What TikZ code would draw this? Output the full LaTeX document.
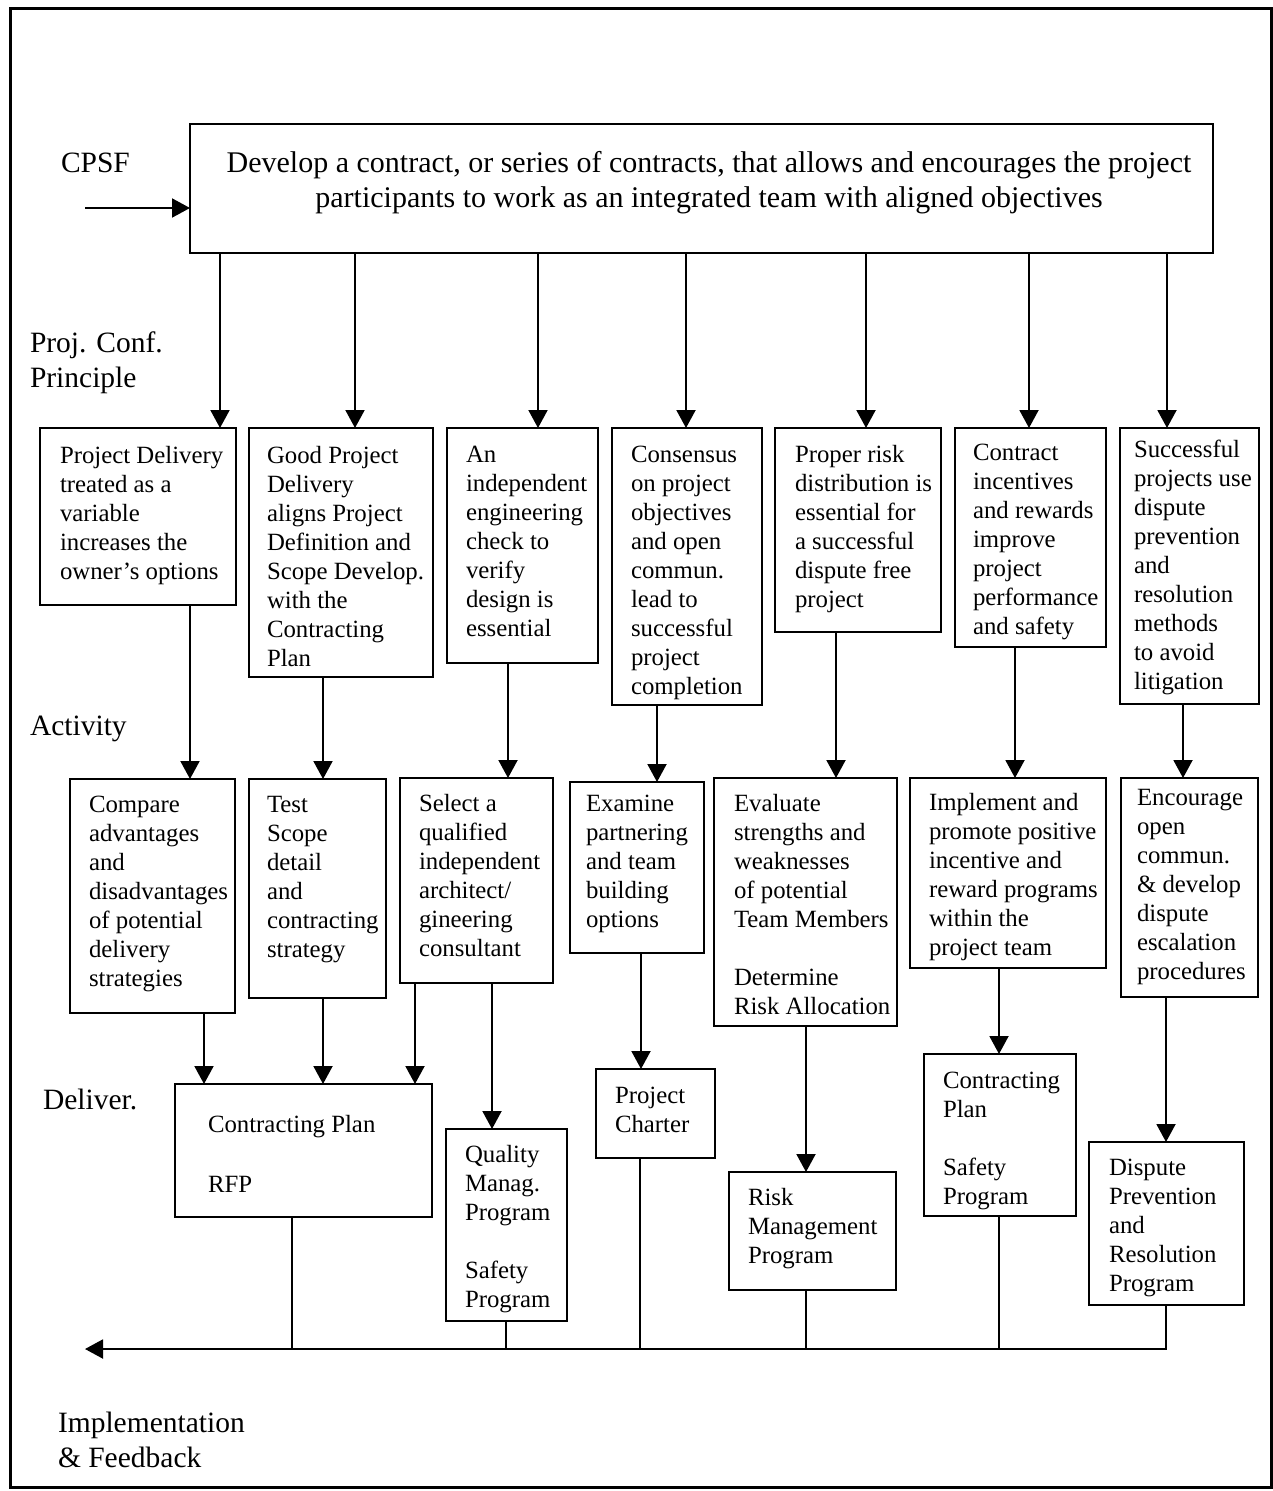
\documentclass[tikz,border=0pt]{standalone}
\usepackage{fontspec}
\setmainfont{Liberation Serif}
\usetikzlibrary{arrows.meta,fit}

% one unit = one point; y grows downwards
\tikzset{
  x=1pt, y=-1pt,
  box/.style={draw, line width=2.4pt, inner sep=0pt, outer sep=0pt},
  txt/.style={inner sep=0pt, outer sep=0pt, font=\fontsize{24.8}{29}\selectfont},
  lab/.style={inner sep=0pt, outer sep=0pt, font=\fontsize{29.5}{35}\selectfont},
  conn/.style={line width=2pt},
  arr/.style={line width=2pt, -{Triangle[length=18pt,width=19pt]}},
}

% \flowbox{name}{x1}{y1}{x2}{y2}
\newcommand\flowbox[5]{\node[box, fit={(#2,#3) (#4,#5)}] (#1) {};}
% \boxtext{name}{x}{first baseline}{lines}
\newcommand\boxtext[4]{\node[txt, anchor=base west] (#1) at (#2,#3) {\parbox[t]{250pt}{\raggedright #4}};}
% \droparrow{x}{from}{to}
\newcommand\droparrow[3]{\draw[arr] (#1,0 |- #2.south) -- (#1,0 |- #3.north);}

\begin{document}
\begin{tikzpicture}
\useasboundingbox (0,0) rectangle (1273,1491);
\draw[line width=3pt] (10,8) rectangle (1271,1487);

% side labels
\node[lab, anchor=base west] (cpsf) at (61,172) {CPSF};
\node[lab, anchor=base west] (pcp) at (30,352) {\parbox[t]{250pt}{\raggedright Proj. Conf.\\Principle}};
\node[lab, anchor=base west] (act) at (30,735) {Activity};
\node[lab, anchor=base west] (dlv) at (43,1109) {Deliver.};
\node[lab, anchor=base west] (impl) at (58,1432) {\parbox[t]{300pt}{\raggedright Implementation\\\& Feedback}};

% CPSF statement
\flowbox{top}{190}{124}{1213}{253}
\node[inner sep=0pt, anchor=base, font=\fontsize{30}{35}\selectfont] (toptxt) at (709,172)
  {\parbox[t]{1010pt}{\centering Develop a contract, or series of contracts, that allows and encourages the project\\participants to work as an integrated team with aligned objectives}};
\coordinate (cin) at (85,208);
\draw[arr] (cin) -- (cin -| top.west);

% project configuration principles
\flowbox{p1}{40}{428}{236}{605}
\boxtext{p1t}{60}{463}{Project Delivery\\treated as a\\variable\\increases the\\owner's options}
\flowbox{p2}{249}{428}{433}{677}
\boxtext{p2t}{267}{463}{Good Project\\Delivery\\aligns Project\\Definition and\\Scope Develop.\\with the\\Contracting\\Plan}
\flowbox{p3}{447}{428}{598}{663}
\boxtext{p3t}{466}{462}{An\\independent\\engineering\\check to\\verify\\design is\\essential}
\flowbox{p4}{612}{428}{762}{705}
\boxtext{p4t}{631}{462}{Consensus\\on project\\objectives\\and open\\commun.\\lead to\\successful\\project\\completion}
\flowbox{p5}{775}{428}{941}{632}
\boxtext{p5t}{795}{462}{Proper risk\\distribution is\\essential for\\a successful\\dispute free\\project}
\flowbox{p6}{955}{428}{1106}{647}
\boxtext{p6t}{973}{460}{Contract\\incentives\\and rewards\\improve\\project\\performance\\and safety}
\flowbox{p7}{1120}{428}{1259}{704}
\boxtext{p7t}{1134}{457}{Successful\\projects use\\dispute\\prevention\\and\\resolution\\methods\\to avoid\\litigation}

% activities
\flowbox{a1}{70}{779}{235}{1013}
\boxtext{a1t}{89}{812}{Compare\\advantages\\and\\disadvantages\\of potential\\delivery\\strategies}
\flowbox{a2}{249}{779}{386}{998}
\boxtext{a2t}{267}{812}{Test\\Scope\\detail\\and\\contracting\\strategy}
\flowbox{a3}{400}{778}{553}{983}
\boxtext{a3t}{419}{811}{Select a\\qualified\\independent\\architect/\\gineering\\consultant}
\flowbox{a4}{570}{782}{704}{953}
\boxtext{a4t}{586}{811}{Examine\\partnering\\and team\\building\\options}
\flowbox{a5}{714}{778}{897}{1026}
\boxtext{a5t}{734}{811}{Evaluate\\strengths and\\weaknesses\\of potential\\Team Members\\[29pt]Determine\\Risk Allocation}
\flowbox{a6}{910}{778}{1106}{968}
\boxtext{a6t}{929}{810}{Implement and\\promote positive\\incentive and\\reward programs\\within the\\project team}
\flowbox{a7}{1121}{778}{1258}{997}
\boxtext{a7t}{1137}{805}{Encourage\\open\\commun.\\\& develop\\dispute\\escalation\\procedures}

% deliverables
\flowbox{dA}{175}{1084}{432}{1217}
\boxtext{dAt}{208}{1132}{Contracting Plan\\[31pt]RFP}
\flowbox{dB}{446}{1129}{567}{1321}
\boxtext{dBt}{465}{1162}{Quality\\Manag.\\Program\\[29pt]Safety\\Program}
\flowbox{dC}{596}{1069}{715}{1158}
\boxtext{dCt}{615}{1103}{Project\\Charter}
\flowbox{dD}{729}{1172}{896}{1290}
\boxtext{dDt}{748}{1205}{Risk\\Management\\Program}
\flowbox{dE}{924}{1054}{1076}{1216}
\boxtext{dEt}{943}{1088}{Contracting\\Plan\\[29pt]Safety\\Program}
\flowbox{dF}{1089}{1142}{1244}{1305}
\boxtext{dFt}{1109}{1175}{Dispute\\Prevention\\and\\Resolution\\Program}

% statement -> principles
\droparrow{220}{top}{p1}
\droparrow{355}{top}{p2}
\droparrow{538}{top}{p3}
\droparrow{686}{top}{p4}
\droparrow{866}{top}{p5}
\droparrow{1029}{top}{p6}
\droparrow{1167}{top}{p7}

% principles -> activities
\droparrow{190}{p1}{a1}
\droparrow{323}{p2}{a2}
\droparrow{508}{p3}{a3}
\droparrow{657}{p4}{a4}
\droparrow{836}{p5}{a5}
\droparrow{1015}{p6}{a6}
\droparrow{1183}{p7}{a7}

% activities -> deliverables
\droparrow{204}{a1}{dA}
\droparrow{323}{a2}{dA}
\droparrow{415}{a3}{dA}
\droparrow{492}{a3}{dB}
\droparrow{641}{a4}{dC}
\droparrow{806}{a5}{dD}
\droparrow{999}{a6}{dE}
\droparrow{1166}{a7}{dF}

% deliverables -> implementation & feedback
\coordinate (fb) at (85,1349);
\draw[arr] (1166,0 |- dF.south) |- (fb);
\draw[conn] (292,0 |- dA.south) -- (292,0 |- fb);
\draw[conn] (506,0 |- dB.south) -- (506,0 |- fb);
\draw[conn] (640,0 |- dC.south) -- (640,0 |- fb);
\draw[conn] (806,0 |- dD.south) -- (806,0 |- fb);
\draw[conn] (999,0 |- dE.south) -- (999,0 |- fb);
\end{tikzpicture}
\end{document}
